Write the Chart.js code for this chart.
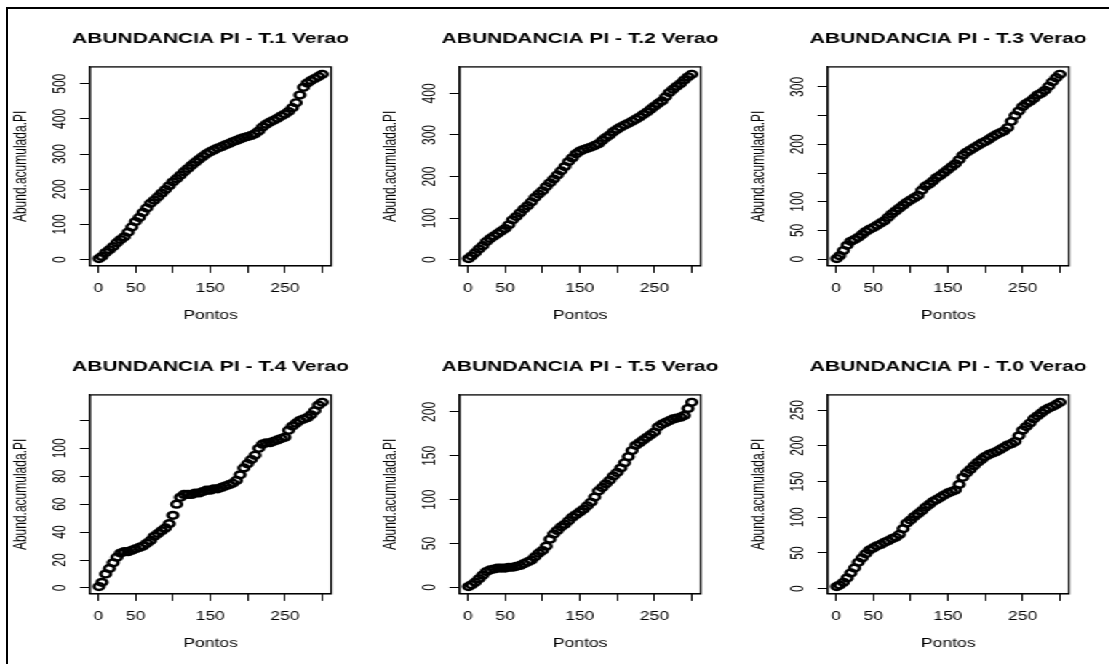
<!DOCTYPE html>
<html>
<head>
<meta charset="utf-8">
<script src="https://cdn.jsdelivr.net/npm/chart.js@4.4.1/dist/chart.umd.min.js"></script>
<style>
  html, body { margin: 0; padding: 0; background: #fff; }
  body { width: 1109px; height: 664px; overflow: hidden; position: relative; }
  #moldura { position: absolute; left: 5.5px; top: 6.5px; width: 1200px; height: 700px;
             border-left: 2px solid #000; border-top: 2px solid #000; }
  /* the R device was wider than tall in pixels, so the whole sheet is stretched sideways */
  #folha { position: absolute; left: 0; top: 0; width: 763px; height: 664px;
           transform: scaleX(1.455); transform-origin: 0 0; }
  #folha canvas { position: absolute; }
</style>
</head>
<body>
<div id="moldura"></div>
<div id="folha">
  <canvas id="t1" width="253" height="329"></canvas>
  <canvas id="t2" width="253" height="329"></canvas>
  <canvas id="t3" width="253" height="329"></canvas>
  <canvas id="t4" width="253" height="329"></canvas>
  <canvas id="t5" width="253" height="329"></canvas>
  <canvas id="t0" width="253" height="329"></canvas>
</div>
<script>
// pontos amostrados (eixo x)
var pontos = [1,5,10,15,20,25,30,35,40,45,50,55,60,65,70,75,80,85,90,95,100,105,110,115,120,125,130,135,140,145,150,155,160,165,170,175,180,185,190,195,200,205,210,215,220,225,230,235,240,245,250,255,260,265,270,275,280,285,290,295,300];

// abundancia acumulada de PI por transecto
var abundT1 = [3,9,20,28,37,48,57,65,78,93,108,120,134,147,160,169,179,189,199,210,221,230,240,250,259,268,277,285,293,301,307,312,317,321,326,330,335,339,343,347,350,353,358,366,377,385,391,396,402,408,414,421,432,446,468,490,502,509,515,521,527];
var abundT2 = [3,9,17,26,34,44,51,57,63,69,75,84,96,104,113,122,130,139,150,158,166,176,185,194,204,214,224,236,245,255,261,265,268,271,275,279,287,294,300,308,314,319,324,328,333,338,343,349,355,362,369,376,382,392,402,410,417,424,432,440,446];
var abundT3 = [1,6,15,24,31,34,38,43,48,52,55,59,63,67,73,79,84,89,94,99,103,107,111,120,127,131,136,142,146,151,156,161,166,173,181,186,190,194,198,202,205,209,213,217,220,223,229,240,250,258,266,271,275,280,286,289,294,301,309,316,322];
var abundT4 = [1,4,10,14,18,22,25,26,26,27,28,29,30,32,34,37,39,41,43,46,52,60,65,67,67,67,68,68,69,70,70,71,71,72,73,74,75,77,81,86,89,92,95,100,103,104,104,105,106,107,108,113,116,118,120,121,122,124,127,131,133];
var abundT5 = [1,3,6,10,14,18,20,21,22,22,22,23,23,24,25,27,29,31,35,39,42,47,55,61,65,69,72,76,80,83,86,89,93,97,103,110,114,118,122,127,131,136,142,149,156,162,165,168,171,174,177,183,186,188,190,192,193,194,196,204,211];
var abundT0 = [3,5,9,15,22,29,37,43,49,54,57,60,62,65,67,70,72,76,84,92,96,101,105,109,114,118,122,125,128,131,134,136,138,146,156,162,167,172,177,181,185,188,190,192,195,198,201,203,206,214,222,227,232,238,242,246,250,253,255,258,261];

// marcas dos eixos ('' = marca sem rotulo, como o R faz quando nao cabe)
var xMarcas = [0,50,100,150,200,250,300];
var xRotulos = ['0','50','','150','','250',''];
var yMarcasT1 = [0,100,200,300,400,500];
var yRotulosT1 = ['0','100','200','300','400','500'];
var yMarcasT2 = [0,100,200,300,400];
var yRotulosT2 = ['0','100','200','300','400'];
var yMarcasT3 = [0,50,100,150,200,250,300];
var yRotulosT3 = ['0','50','100','','200','','300'];
var yMarcasT4 = [0,20,40,60,80,100,120];
var yRotulosT4 = ['0','20','40','60','80','100',''];
var yMarcasT5 = [0,50,100,150,200];
var yRotulosT5 = ['0','50','100','150','200'];
var yMarcasT0 = [0,50,100,150,200,250];
var yRotulosT0 = ['0','50','100','150','200','250'];

var fonte = 'Liberation Sans, Arial, sans-serif';

// box() do R em volta da regiao do grafico + titulo centrado na caixa
// (o titulo do Chart.js encolheria o texto para caber na largura da caixa)
var caixa = {
  id: 'caixa',
  afterDraw: function (chart, args, opts) {
    var a = chart.chartArea, ctx = chart.ctx;
    ctx.save();
    ctx.strokeStyle = '#000';
    ctx.lineWidth = 1.3;
    ctx.strokeRect(a.left, a.top, a.right - a.left, a.bottom - a.top);
    ctx.fillStyle = '#000';
    ctx.font = 'bold 14.4px ' + fonte;
    ctx.textAlign = 'center';
    ctx.textBaseline = 'middle';
    ctx.fillText(opts.texto, (a.left + a.right) / 2, a.top - 27.5);
    ctx.restore();
  }
};

// limites como no R: faixa dos dados + 4% de cada lado
function faixa(v) {
  var lo = Math.min.apply(null, v), hi = Math.max.apply(null, v);
  var d = (hi - lo) * 0.04;
  return [lo - d, hi + d];
}

function grafico(id, titulo, valores, yMarcas, yRotulos, col, lin) {
  var cv = document.getElementById(id);
  cv.style.left = (4.4 + col * 253.1) + 'px';
  cv.style.top = (8.8 + lin * 328.3) + 'px';
  var fx = faixa(pontos), fy = faixa(valores);
  var eixo = {
    grid: { drawOnChartArea: false, drawTicks: true, tickLength: 7, color: '#000', lineWidth: 1 },
    border: { display: true, color: '#000', width: 1 }
  };
  return new Chart(cv, {
    type: 'scatter',
    data: {
      datasets: [{
        data: pontos.map(function (x, i) { return { x: x, y: valores[i] }; }),
        pointStyle: 'circle',
        pointRadius: 3.4,
        pointBorderWidth: 2.4,
        pointBorderColor: '#000',
        pointBackgroundColor: 'rgba(0,0,0,0)',
        clip: false
      }]
    },
    options: {
      responsive: false,
      animation: false,
      events: [],
      layout: { padding: { left: 0, top: 57.9, right: 29.4, bottom: 0 } },
      plugins: {
        legend: { display: false },
        tooltip: { enabled: false },
        title: { display: false },
        caixa: { texto: titulo }
      },
      scales: {
        x: Object.assign({}, eixo, {
          type: 'linear', position: 'bottom', min: fx[0], max: fx[1],
          afterBuildTicks: function (s) { s.ticks = xMarcas.map(function (v) { return { value: v }; }); },
          afterFit: function (s) { s.height = 72.1; },
          ticks: {
            autoSkip: false, maxRotation: 0, padding: 8.6, color: '#000',
            font: { family: fonte, size: 12 },
            callback: function (v, i) { return xRotulos[i]; }
          },
          title: { display: true, text: 'Pontos', color: '#000', font: { family: fonte, size: 12 }, padding: { top: 0, bottom: 14.9 } }
        }),
        y: Object.assign({}, eixo, {
          type: 'linear', position: 'left', min: fy[0], max: fy[1],
          afterBuildTicks: function (s) { s.ticks = yMarcas.map(function (v) { return { value: v }; }); },
          afterFit: function (s) { s.width = 57.9; },
          ticks: {
            autoSkip: false, minRotation: 90, maxRotation: 90, crossAlign: 'center', padding: 3, color: '#000',
            font: { family: fonte, size: 12 },
            callback: function (v, i) { return yRotulos[i]; }
          },
          title: { display: true, text: 'Abund.acumulada.PI', color: '#000', font: { family: fonte, size: 12 }, padding: { top: 3.5, bottom: 0 } }
        })
      }
    },
    plugins: [caixa]
  });
}

grafico('t1', 'ABUNDANCIA PI - T.1 Verao', abundT1, yMarcasT1, yRotulosT1, 0, 0);
grafico('t2', 'ABUNDANCIA PI - T.2 Verao', abundT2, yMarcasT2, yRotulosT2, 1, 0);
grafico('t3', 'ABUNDANCIA PI - T.3 Verao', abundT3, yMarcasT3, yRotulosT3, 2, 0);
grafico('t4', 'ABUNDANCIA PI - T.4 Verao', abundT4, yMarcasT4, yRotulosT4, 0, 1);
grafico('t5', 'ABUNDANCIA PI - T.5 Verao', abundT5, yMarcasT5, yRotulosT5, 1, 1);
grafico('t0', 'ABUNDANCIA PI - T.0 Verao', abundT0, yMarcasT0, yRotulosT0, 2, 1);
</script>
</body>
</html>
